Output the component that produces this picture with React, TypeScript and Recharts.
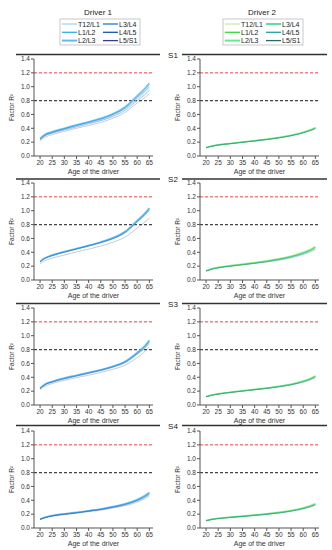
import React from "react";
import { LineChart, Line, XAxis, YAxis, ReferenceLine } from "recharts";

const ages = [20, 22, 25, 30, 35, 40, 45, 50, 55, 60, 63, 65];
const segments = ["T12/L1", "L1/L2", "L2/L3", "L3/L4", "L4/L5", "L5/S1"];
const xTicks = [20, 25, 30, 35, 40, 45, 50, 55, 60, 65];
const yTicks = [0, 0.2, 0.4, 0.6, 0.8, 1.0, 1.2, 1.4];
const rowLabels = ["S1", "S2", "S3", "S4"];

const driver1Colors = ["#9fd5f5", "#2fb0f0", "#5cbcf2", "#1c7ad0", "#1a55b0", "#3c3c80"];
const driver2Colors = ["#c6f0a6", "#3ad83a", "#5cf08c", "#1ec07a", "#2aa0a0", "#2f6868"];

// rows follow `segments`: T12/L1, L1/L2, L2/L3, L3/L4, L4/L5, L5/S1
const driver1S1 = [
  [0.24, 0.295, 0.335, 0.385, 0.43, 0.475, 0.52, 0.585, 0.68, 0.82, 0.91, 0.98],
  [0.25, 0.305, 0.345, 0.395, 0.445, 0.49, 0.54, 0.605, 0.7, 0.855, 0.95, 1.03],
  [0.255, 0.31, 0.35, 0.4, 0.45, 0.495, 0.545, 0.61, 0.71, 0.87, 0.97, 1.05],
  [0.245, 0.3, 0.34, 0.39, 0.44, 0.485, 0.53, 0.595, 0.69, 0.84, 0.93, 1.0],
  [0.235, 0.29, 0.33, 0.375, 0.42, 0.465, 0.51, 0.57, 0.66, 0.8, 0.88, 0.95],
  [0.22, 0.27, 0.31, 0.355, 0.4, 0.44, 0.485, 0.545, 0.63, 0.765, 0.84, 0.9],
];
const driver1S2 = [
  [0.26, 0.31, 0.35, 0.4, 0.445, 0.49, 0.54, 0.595, 0.685, 0.84, 0.935, 1.01],
  [0.265, 0.315, 0.355, 0.405, 0.45, 0.495, 0.545, 0.605, 0.695, 0.85, 0.95, 1.03],
  [0.27, 0.32, 0.36, 0.41, 0.455, 0.5, 0.55, 0.61, 0.7, 0.86, 0.96, 1.04],
  [0.265, 0.315, 0.355, 0.405, 0.45, 0.495, 0.545, 0.6, 0.69, 0.845, 0.945, 1.02],
  [0.26, 0.31, 0.35, 0.4, 0.445, 0.49, 0.535, 0.595, 0.68, 0.835, 0.93, 1.0],
  [0.235, 0.28, 0.315, 0.36, 0.405, 0.445, 0.49, 0.545, 0.62, 0.75, 0.83, 0.89],
];
const driver1S3 = [
  [0.235, 0.29, 0.33, 0.38, 0.42, 0.46, 0.5, 0.55, 0.615, 0.74, 0.825, 0.905],
  [0.24, 0.295, 0.335, 0.385, 0.425, 0.465, 0.505, 0.555, 0.625, 0.75, 0.84, 0.925],
  [0.245, 0.3, 0.34, 0.39, 0.43, 0.47, 0.51, 0.56, 0.63, 0.76, 0.85, 0.935],
  [0.24, 0.295, 0.335, 0.385, 0.425, 0.465, 0.505, 0.555, 0.62, 0.745, 0.835, 0.915],
  [0.235, 0.29, 0.33, 0.375, 0.415, 0.455, 0.495, 0.545, 0.61, 0.73, 0.815, 0.89],
  [0.22, 0.27, 0.31, 0.355, 0.395, 0.43, 0.47, 0.515, 0.575, 0.685, 0.765, 0.84],
];
const driver1S4 = [
  [0.125, 0.15, 0.175, 0.2, 0.22, 0.244, 0.268, 0.3, 0.338, 0.395, 0.445, 0.49],
  [0.128, 0.153, 0.178, 0.203, 0.223, 0.247, 0.272, 0.306, 0.345, 0.405, 0.458, 0.505],
  [0.13, 0.155, 0.18, 0.205, 0.225, 0.25, 0.275, 0.31, 0.35, 0.41, 0.465, 0.515],
  [0.127, 0.152, 0.177, 0.202, 0.222, 0.246, 0.27, 0.303, 0.342, 0.4, 0.452, 0.498],
  [0.124, 0.149, 0.174, 0.198, 0.218, 0.242, 0.265, 0.297, 0.334, 0.39, 0.438, 0.482],
  [0.12, 0.145, 0.168, 0.192, 0.212, 0.235, 0.257, 0.288, 0.322, 0.374, 0.42, 0.465],
];

const driver2S1 = [
  [0.12, 0.14, 0.16, 0.182, 0.202, 0.222, 0.243, 0.268, 0.3, 0.345, 0.38, 0.41],
  [0.12, 0.14, 0.16, 0.18, 0.2, 0.22, 0.24, 0.265, 0.297, 0.34, 0.375, 0.405],
  [0.121, 0.141, 0.161, 0.181, 0.201, 0.221, 0.242, 0.267, 0.299, 0.343, 0.378, 0.408],
  [0.119, 0.139, 0.159, 0.179, 0.199, 0.219, 0.239, 0.264, 0.295, 0.338, 0.372, 0.4],
  [0.118, 0.138, 0.158, 0.178, 0.198, 0.218, 0.238, 0.262, 0.293, 0.335, 0.368, 0.396],
  [0.117, 0.137, 0.157, 0.177, 0.197, 0.216, 0.236, 0.26, 0.29, 0.331, 0.364, 0.39],
];
const driver2S2 = [
  [0.135, 0.16, 0.185, 0.21, 0.232, 0.255, 0.28, 0.31, 0.35, 0.405, 0.45, 0.49],
  [0.132, 0.156, 0.18, 0.205, 0.226, 0.248, 0.272, 0.302, 0.34, 0.392, 0.435, 0.472],
  [0.133, 0.158, 0.182, 0.207, 0.228, 0.25, 0.275, 0.305, 0.344, 0.397, 0.44, 0.478],
  [0.13, 0.154, 0.178, 0.202, 0.223, 0.245, 0.268, 0.297, 0.334, 0.385, 0.426, 0.462],
  [0.128, 0.152, 0.175, 0.199, 0.22, 0.241, 0.264, 0.292, 0.328, 0.377, 0.417, 0.45],
  [0.126, 0.15, 0.172, 0.196, 0.216, 0.237, 0.259, 0.286, 0.32, 0.368, 0.405, 0.435],
];
const driver2S3 = [
  [0.12, 0.14, 0.16, 0.185, 0.205, 0.225, 0.245, 0.27, 0.3, 0.345, 0.385, 0.42],
  [0.12, 0.14, 0.16, 0.184, 0.204, 0.224, 0.244, 0.268, 0.298, 0.342, 0.38, 0.415],
  [0.121, 0.141, 0.161, 0.185, 0.205, 0.225, 0.246, 0.27, 0.3, 0.345, 0.384, 0.418],
  [0.119, 0.139, 0.159, 0.182, 0.202, 0.222, 0.242, 0.265, 0.295, 0.338, 0.375, 0.408],
  [0.118, 0.138, 0.158, 0.181, 0.201, 0.22, 0.24, 0.263, 0.292, 0.334, 0.37, 0.4],
  [0.117, 0.137, 0.157, 0.179, 0.199, 0.218, 0.237, 0.26, 0.288, 0.329, 0.363, 0.392],
];
const driver2S4 = [
  [0.108, 0.125, 0.14, 0.158, 0.172, 0.188, 0.205, 0.227, 0.253, 0.292, 0.325, 0.352],
  [0.106, 0.123, 0.138, 0.155, 0.17, 0.186, 0.203, 0.224, 0.25, 0.288, 0.32, 0.346],
  [0.107, 0.124, 0.139, 0.157, 0.171, 0.187, 0.204, 0.226, 0.252, 0.29, 0.322, 0.349],
  [0.105, 0.122, 0.137, 0.154, 0.168, 0.184, 0.2, 0.221, 0.246, 0.283, 0.313, 0.339],
  [0.104, 0.121, 0.136, 0.153, 0.167, 0.182, 0.198, 0.218, 0.243, 0.279, 0.308, 0.333],
  [0.103, 0.12, 0.135, 0.151, 0.165, 0.18, 0.196, 0.216, 0.24, 0.275, 0.303, 0.327],
];

const driver1Panels = [driver1S1, driver1S2, driver1S3, driver1S4];
const driver2Panels = [driver2S1, driver2S2, driver2S3, driver2S4];

const FONT = "'Liberation Sans', Arial, sans-serif";
const plotTops = [59, 183, 308, 431];
const ruleYs = [54.5, 179, 303.5, 425.5];
// draw order: thick L2/L3 underneath
const drawOrder = [2, 0, 1, 3, 4, 5];
// darker segments look faint in the source plots
const lineOpacity = [1, 0.9, 0.85, 0.6, 0.5, 0.4];

function Panel({ values, colors, left, top }: { values: number[][]; colors: string[]; left: number; top: number }) {
  const data = ages.map((age, i) => {
    const row: Record<string, number> = { age };
    values.forEach((s, k) => {
      row["s" + k] = s[i];
    });
    return row;
  });
  const tickStyle = { fontSize: 6.5, fill: "#333", fontFamily: FONT };
  return (
    <div style={{ position: "absolute", left, top: top - 5 }}>
      <LineChart width={166} height={122} data={data} margin={{ top: 5, right: 13, bottom: 0, left: 0 }}>
        <XAxis
          dataKey="age"
          type="number"
          domain={[17.5, 66.5]}
          ticks={xTicks}
          height={20}
          tick={tickStyle}
          tickSize={3}
          tickMargin={1}
          stroke="#555"
          interval={0}
          label={{ value: "Age of the driver", position: "insideBottom", offset: 2, fontSize: 7, fill: "#333", fontFamily: FONT }}
        />
        <XAxis
          xAxisId="top"
          dataKey="age"
          type="number"
          orientation="top"
          domain={[17.5, 66.5]}
          ticks={[20, 30, 40, 50, 60]}
          height={0}
          mirror
          tick={false}
          tickSize={2}
          stroke="#555"
        />
        <YAxis
          type="number"
          domain={[0, 1.4]}
          ticks={yTicks}
          width={34}
          tick={tickStyle}
          tickSize={3}
          tickMargin={1}
          interval={0}
          stroke="#555"
          tickFormatter={(v: number) => v.toFixed(1)}
          label={{ value: "Factor R²", angle: -90, position: "center", dx: -5, fontSize: 6.5, fill: "#333", fontFamily: FONT }}
        />
        <YAxis
          yAxisId="right"
          type="number"
          orientation="right"
          domain={[0, 1.4]}
          ticks={yTicks}
          width={0}
          mirror
          tick={false}
          tickSize={2}
          stroke="#555"
        />
        <ReferenceLine y={1.2} stroke="#ff3b3b" strokeDasharray="3 2" strokeWidth={1} />
        <ReferenceLine y={0.8} stroke="#444" strokeDasharray="3 2" strokeWidth={1.2} />
        {drawOrder.map((k) => (
          <Line
            key={k}
            dataKey={"s" + k}
            name={segments[k]}
            type="monotone"
            stroke={colors[k]}
            strokeOpacity={lineOpacity[k]}
            strokeWidth={k === 2 ? 1.6 : 0.7}
            dot={false}
            isAnimationActive={false}
          />
        ))}
      </LineChart>
    </div>
  );
}

function LegendBox({ x, y, colors }: { x: number; y: number; colors: string[] }) {
  const rows = [0, 1, 2];
  return (
    <g>
      <rect x={x} y={y} width={80} height={26} fill="#fff" stroke="#bbb" strokeWidth={0.8} />
      {segments.map((s, k) => {
        const col = k < 3 ? 0 : 1;
        const row = rows[k % 3];
        const lx = x + 2 + col * 41;
        const ly = y + 5 + row * 8.3;
        return (
          <g key={s}>
            <line x1={lx} x2={lx + 15} y1={ly} y2={ly} stroke={colors[k]} strokeWidth={k === 2 ? 2 : 1.3} />
            <text x={lx + 16} y={ly + 2.5} fontSize={7} fill="#222" fontFamily={FONT}>
              {s}
            </text>
          </g>
        );
      })}
    </g>
  );
}

export default function App() {
  return (
    <div style={{ position: "absolute", left: 0, top: 0, width: 332, height: 550, background: "#fff", fontFamily: FONT }}>
      <svg width={332} height={550} style={{ position: "absolute", left: 0, top: 0 }}>
        <text x={98} y={15} fontSize={8} textAnchor="middle" fill="#222" fontFamily={FONT}>
          Driver 1
        </text>
        <text x={262} y={15} fontSize={8} textAnchor="middle" fill="#222" fontFamily={FONT}>
          Driver 2
        </text>
        <LegendBox x={60} y={19} colors={driver1Colors} />
        <LegendBox x={223} y={19} colors={driver2Colors} />
        {rowLabels.map((label, i) => (
          <g key={label}>
            <line x1={16} x2={160} y1={ruleYs[i]} y2={ruleYs[i]} stroke="#333" strokeWidth={1.3} />
            <line x1={182} x2={327} y1={ruleYs[i]} y2={ruleYs[i]} stroke="#333" strokeWidth={1.3} />
            <text x={173} y={ruleYs[i] + 3} fontSize={8} textAnchor="middle" fill="#222" fontFamily={FONT}>
              {label}
            </text>
          </g>
        ))}
      </svg>
      {plotTops.map((t, i) => (
        <Panel key={"d1" + i} values={driver1Panels[i]} colors={driver1Colors} left={0} top={t} />
      ))}
      {plotTops.map((t, i) => (
        <Panel key={"d2" + i} values={driver2Panels[i]} colors={driver2Colors} left={166} top={t} />
      ))}
    </div>
  );
}
